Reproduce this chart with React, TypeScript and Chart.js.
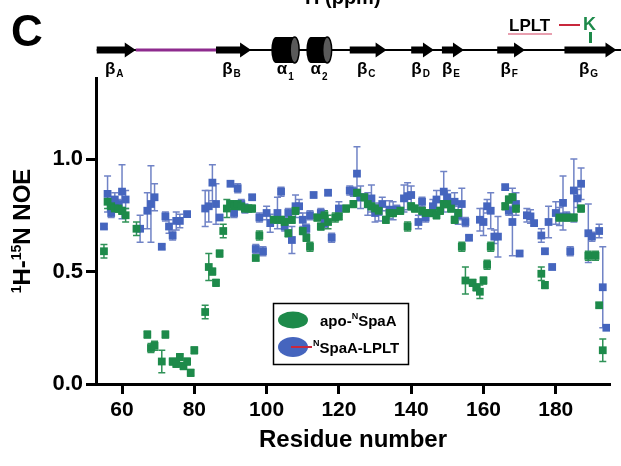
import React, { useEffect, useRef } from "react";
import { Chart, registerables } from "chart.js";

Chart.register(...registerables);

// ---------- data ----------
const apoResidues = [55,56,57,58,59,60,61,64,67,68,69,71,72,74,75,76,77,78,79,80,83,84,85,86,87,88,89,90,91,92,93,94,95,96,97,98,102,104,105,106,107,108,110,111,112,114,115,116,117,119,120,122,124,125,127,128,129,130,131,133,134,135,137,139,140,141,143,144,146,147,148,149,150,151,152,153,154,155,157,158,159,160,161,162,166,167,168,169,176,177,181,183,185,187,189,191,192,193];
const apoNoe = [0.59,0.81,0.79,0.78,0.78,0.77,0.75,0.69,0.22,0.16,0.17,0.10,0.22,0.10,0.09,0.12,0.08,0.10,0.05,0.15,0.32,0.52,0.50,0.45,0.58,0.68,0.78,0.80,0.79,0.80,0.79,0.78,0.78,0.78,0.56,0.66,0.73,0.73,0.72,0.67,0.73,0.77,0.68,0.65,0.61,0.74,0.70,0.75,0.72,0.74,0.745,0.78,0.80,0.85,0.83,0.80,0.79,0.78,0.77,0.73,0.76,0.76,0.77,0.70,0.79,0.78,0.77,0.76,0.76,0.75,0.77,0.80,0.80,0.78,0.73,0.76,0.61,0.46,0.45,0.43,0.41,0.46,0.53,0.61,0.79,0.82,0.83,0.78,0.49,0.44,0.74,0.74,0.74,0.78,0.57,0.57,0.35,0.15];
const apoErr = [0.03,0.03,0.015,0.015,0.015,0.015,0.03,0.03,0.015,0.02,0.02,0.05,0.015,0.015,0.015,0.015,0.015,0.015,0.015,0.015,0.03,0.06,0.015,0.015,0.015,0.03,0.04,0.015,0.015,0.015,0.015,0.015,0.015,0.015,0.01,0.02,0.015,0.015,0.015,0.015,0.015,0.015,0.015,0.015,0.02,0.015,0.015,0.02,0.03,0.02,0.015,0.015,0.015,0.015,0.015,0.015,0.015,0.015,0.015,0.015,0.015,0.015,0.015,0.02,0.015,0.015,0.015,0.015,0.015,0.015,0.015,0.015,0.015,0.015,0.015,0.015,0.02,0.06,0.015,0.015,0.03,0.015,0.02,0.02,0.015,0.015,0.015,0.015,0.03,0.015,0.015,0.015,0.015,0.015,0.02,0.02,0.01,0.05];

const lpltResidues = [55,56,57,58,59,60,61,65,67,68,69,71,72,73,74,75,76,78,83,84,85,86,87,90,91,92,93,94,96,97,98,99,100,101,103,104,105,106,107,108,109,110,111,112,113,115,116,117,118,120,123,124,125,126,128,129,130,131,132,134,135,136,138,139,140,142,143,144,146,147,149,150,152,153,154,155,156,159,160,161,162,163,164,166,167,168,169,170,172,173,174,176,177,178,179,180,181,182,183,184,185,186,187,189,190,192,193,194];
const lpltNoe = [0.70,0.845,0.76,0.82,0.80,0.855,0.82,0.69,0.77,0.80,0.83,0.61,0.745,0.70,0.66,0.725,0.725,0.755,0.78,0.79,0.895,0.80,0.74,0.89,0.76,0.87,0.80,0.78,0.83,0.60,0.74,0.59,0.76,0.715,0.76,0.855,0.70,0.76,0.64,0.79,0.79,0.73,0.69,0.75,0.84,0.76,0.715,0.85,0.65,0.78,0.86,0.855,0.935,0.83,0.80,0.825,0.76,0.765,0.80,0.775,0.77,0.775,0.825,0.835,0.84,0.72,0.81,0.74,0.79,0.82,0.855,0.83,0.81,0.75,0.80,0.72,0.65,0.73,0.72,0.79,0.77,0.655,0.655,0.875,0.77,0.72,0.80,0.58,0.75,0.745,0.715,0.66,0.59,0.72,0.52,0.76,0.745,0.805,0.745,0.59,0.86,0.825,0.89,0.67,0.655,0.68,0.43,0.25];
const lpltErr = [0.01,0.08,0.02,0.03,0.02,0.12,0.04,0.06,0.08,0.17,0.06,0.01,0.02,0.03,0.02,0.04,0.03,0.01,0.08,0.07,0.08,0.09,0.01,0.01,0.02,0.02,0.02,0.02,0.01,0.02,0.02,0.02,0.03,0.04,0.07,0.02,0.02,0.02,0.06,0.05,0.03,0.03,0.02,0.02,0.01,0.02,0.02,0.01,0.02,0.03,0.02,0.02,0.12,0.05,0.05,0.06,0.04,0.04,0.03,0.04,0.04,0.02,0.06,0.06,0.04,0.03,0.02,0.02,0.03,0.04,0.09,0.03,0.04,0.04,0.07,0.02,0.01,0.05,0.06,0.03,0.08,0.03,0.09,0.01,0.02,0.15,0.05,0.01,0.03,0.03,0.01,0.03,0.01,0.07,0.01,0.05,0.04,0.12,0.02,0.02,0.14,0.04,0.07,0.13,0.02,0.03,0.18,0.01];

const xTicks = [60, 80, 100, 120, 140, 160, 180];
const yTicks = [0, 0.5, 1.0];

// secondary structure (residue ranges)
const strandNames = ["A", "B", "C", "D", "E", "F", "G"];
const strandStarts = [53, 86, 123, 140, 148.5, 163.8, 182.4];
const strandEnds = [63.8, 95.7, 133.2, 146.3, 154.6, 171.5, 196.8];
const helixNames = ["1", "2"];
const helixStarts = [101.3, 111];
const helixEnds = [109, 118];
const disorderedRange = [63.8, 86];

const FONT = "Arial, 'Liberation Sans', Helvetica, sans-serif";
const BLUE = "#4565be";
const BLUE_ERR = "#7083c6";
const GREEN = "#1d8a4a";
const GREEN_ERR = "#2f9257";

const errorBarPlugin = {
  id: "errorBars",
  beforeDatasetsDraw(chart: any) {
    const ctx = chart.ctx;
    const xS = chart.scales.x;
    const yS = chart.scales.y;
    const order = [1, 0];
    ctx.save();
    for (const i of order) {
      const ds = chart.data.datasets[i];
      const errs: number[] = ds.errors;
      ctx.strokeStyle = ds.errColor;
      ctx.lineWidth = 1.5;
      ds.data.forEach((p: any, k: number) => {
        const e = errs[k];
        const x = xS.getPixelForValue(p.x);
        const yt = yS.getPixelForValue(p.y + e);
        const yb = yS.getPixelForValue(p.y - e);
        ctx.beginPath();
        ctx.moveTo(x, yt);
        ctx.lineTo(x, yb);
        ctx.moveTo(x - 3.5, yt);
        ctx.lineTo(x + 3.5, yt);
        ctx.moveTo(x - 3.5, yb);
        ctx.lineTo(x + 3.5, yb);
        ctx.stroke();
      });
    }
    ctx.restore();
  },
};

function drawSubLabel(ctx: any, main: string, sub: string, cx: number, base: number, subDrop: number) {
  ctx.font = `bold 17px ${FONT}`;
  const w1 = ctx.measureText(main).width;
  ctx.font = `bold 10px ${FONT}`;
  const w2 = ctx.measureText(sub).width;
  const x0 = cx - (w1 + w2 + 1) / 2;
  ctx.font = `bold 17px ${FONT}`;
  ctx.fillText(main, x0, base);
  ctx.font = `bold 10px ${FONT}`;
  ctx.fillText(sub, x0 + w1 + 1, base + subDrop);
}

const decorPlugin = {
  id: "decor",
  afterDraw(chart: any) {
    const ctx = chart.ctx;
    const xS = chart.scales.x;
    const y0 = 50;
    ctx.save();
    ctx.fillStyle = "#000";
    ctx.textAlign = "left";
    ctx.textBaseline = "alphabetic";

    // panel letter
    ctx.font = `bold 44px ${FONT}`;
    ctx.fillText("C", 11, 46);

    // cut-off header
    ctx.font = `bold 13px ${FONT}`;
    ctx.fillText("1", 297, -3);
    ctx.font = `bold 20px ${FONT}`;
    ctx.fillText("H (ppm)", 305, 4);

    // baseline
    const xs0 = xS.getPixelForValue(strandStarts[0]);
    ctx.strokeStyle = "#000";
    ctx.lineWidth = 2;
    ctx.beginPath();
    ctx.moveTo(xs0, y0);
    ctx.lineTo(chart.width, y0);
    ctx.stroke();

    // disordered segment
    ctx.strokeStyle = "#8e2b8e";
    ctx.lineWidth = 3;
    ctx.beginPath();
    ctx.moveTo(xS.getPixelForValue(disorderedRange[0]), y0);
    ctx.lineTo(xS.getPixelForValue(disorderedRange[1]), y0);
    ctx.stroke();

    // strands
    strandStarts.forEach((s, i) => {
      const x1 = xS.getPixelForValue(s);
      const x2 = xS.getPixelForValue(strandEnds[i]);
      const hl = 11;
      ctx.fillStyle = "#000";
      ctx.beginPath();
      ctx.moveTo(x1, y0 - 3.5);
      ctx.lineTo(x2 - hl, y0 - 3.5);
      ctx.lineTo(x2 - hl, y0 - 7.5);
      ctx.lineTo(x2, y0);
      ctx.lineTo(x2 - hl, y0 + 7.5);
      ctx.lineTo(x2 - hl, y0 + 3.5);
      ctx.lineTo(x1, y0 + 3.5);
      ctx.closePath();
      ctx.fill();
      drawSubLabel(ctx, "β", strandNames[i], (x1 + x2) / 2 - 2, 74, 3);
    });

    // helices
    helixStarts.forEach((s, i) => {
      const x1 = xS.getPixelForValue(s);
      const x2 = xS.getPixelForValue(helixEnds[i]);
      const rx = 4.5, ry = 13;
      ctx.fillStyle = "#000";
      ctx.beginPath();
      ctx.ellipse(x1 + rx, y0, rx, ry, 0, 0, Math.PI * 2);
      ctx.fill();
      ctx.fillRect(x1 + rx, y0 - ry, x2 - x1 - 2 * rx, 2 * ry);
      ctx.beginPath();
      ctx.ellipse(x2 - rx, y0, rx, ry, 0, 0, Math.PI * 2);
      ctx.fillStyle = "#5a5a5a";
      ctx.fill();
      ctx.strokeStyle = "#000";
      ctx.lineWidth = 1.5;
      ctx.stroke();
      ctx.fillStyle = "#000";
      drawSubLabel(ctx, "α", helixNames[i], (x1 + x2) / 2, 74, 6);
    });

    // LPLT / K annotation
    ctx.fillStyle = "#000";
    ctx.font = `bold 17px ${FONT}`;
    ctx.fillText("LPLT", 509, 31);
    ctx.strokeStyle = "#e07f95";
    ctx.lineWidth = 1.5;
    ctx.beginPath();
    ctx.moveTo(508, 34);
    ctx.lineTo(552, 34);
    ctx.stroke();
    ctx.strokeStyle = "#c8283c";
    ctx.lineWidth = 2;
    ctx.beginPath();
    ctx.moveTo(559, 25);
    ctx.lineTo(580, 25);
    ctx.stroke();
    ctx.fillStyle = "#1d8a4a";
    ctx.font = `bold 18px ${FONT}`;
    ctx.fillText("K", 583, 30);
    ctx.fillRect(589, 32, 3, 11);

    // y axis title with superscripts (rotated)
    ctx.save();
    ctx.translate(30, 231);
    ctx.rotate(-Math.PI / 2);
    ctx.fillStyle = "#000";
    const parts: [string, boolean][] = [["1", true], ["H-", false], ["15", true], ["N NOE", false]];
    let total = 0;
    for (const [t, sup] of parts) {
      ctx.font = `bold ${sup ? 14 : 24}px ${FONT}`;
      total += ctx.measureText(t).width;
    }
    let x = -total / 2;
    for (const [t, sup] of parts) {
      ctx.font = `bold ${sup ? 14 : 24}px ${FONT}`;
      ctx.fillText(t, x, sup ? -9 : 0);
      x += ctx.measureText(t).width;
    }
    ctx.restore();

    // legend
    ctx.strokeStyle = "#000";
    ctx.lineWidth = 1.5;
    ctx.strokeRect(273.5, 303.5, 135, 61);
    ctx.fillStyle = GREEN;
    ctx.beginPath();
    ctx.ellipse(293, 320, 15, 8.5, 0, 0, Math.PI * 2);
    ctx.fill();
    ctx.fillStyle = BLUE;
    ctx.beginPath();
    ctx.ellipse(293, 347, 15, 10, 0, 0, Math.PI * 2);
    ctx.fill();
    ctx.strokeStyle = "#c8283c";
    ctx.lineWidth = 2;
    ctx.beginPath();
    ctx.moveTo(291, 347);
    ctx.lineTo(312, 347);
    ctx.stroke();

    ctx.fillStyle = "#000";
    const legendLine = (xStart: number, base: number, pre: string, post: string) => {
      let xx = xStart;
      ctx.font = `bold 15px ${FONT}`;
      if (pre) {
        ctx.fillText(pre, xx, base);
        xx += ctx.measureText(pre).width;
      }
      ctx.font = `bold 9px ${FONT}`;
      ctx.fillText("N", xx, base - 7);
      xx += ctx.measureText("N").width;
      ctx.font = `bold 15px ${FONT}`;
      ctx.fillText(post, xx, base);
    };
    legendLine(320, 326, "apo-", "SpaA");
    legendLine(313, 353, "", "SpaA-LPLT");

    ctx.restore();
  },
};

export default function App() {
  const ref = useRef<HTMLCanvasElement | null>(null);

  useEffect(() => {
    if (!ref.current) return;
    const green = apoResidues.map((r, i) => ({ x: r, y: apoNoe[i] }));
    const blue = lpltResidues.map((r, i) => ({ x: r, y: lpltNoe[i] }));
    const chart = new Chart(ref.current, {
      type: "scatter",
      data: {
        datasets: [
          {
            label: "apo-NSpaA",
            data: green,
            pointStyle: "rect",
            pointRadius: 5.5,
            backgroundColor: GREEN,
            borderWidth: 0,
            errors: apoErr,
            errColor: GREEN_ERR,
          } as any,
          {
            label: "NSpaA-LPLT",
            data: blue,
            pointStyle: "rect",
            pointRadius: 5.5,
            backgroundColor: BLUE,
            borderWidth: 0,
            errors: lpltErr,
            errColor: BLUE_ERR,
          } as any,
        ],
      },
      options: {
        animation: false,
        responsive: false,
        devicePixelRatio: 1,
        layout: { padding: { left: 0, right: 11, top: 78, bottom: 0 } },
        plugins: { legend: { display: false }, tooltip: { enabled: false } },
        scales: {
          x: {
            type: "linear",
            min: 52.8,
            max: 195,
            afterBuildTicks: (s: any) => {
              s.ticks = xTicks.map((v) => ({ value: v }));
            },
            afterFit: (s: any) => {
              s.height = 466 - 384;
            },
            grid: { drawOnChartArea: false, drawTicks: true, tickLength: 10, tickWidth: 3, color: "#000" },
            border: { display: true, width: 3, color: "#000" },
            ticks: { color: "#000", padding: 4, font: { family: FONT, size: 21, weight: "bold" } },
            title: {
              display: true,
              text: "Residue number",
              color: "#000",
              font: { family: FONT, size: 24, weight: "bold" },
              padding: { top: 0, bottom: 11 },
            },
          },
          y: {
            type: "linear",
            min: 0,
            max: 1.36,
            afterBuildTicks: (s: any) => {
              s.ticks = yTicks.map((v) => ({ value: v }));
            },
            afterFit: (s: any) => {
              s.width = 96;
            },
            grid: { drawOnChartArea: false, drawTicks: true, tickLength: 10, tickWidth: 3, color: "#000" },
            border: { display: true, width: 3, color: "#000" },
            ticks: {
              color: "#000",
              padding: 3,
              font: { family: FONT, size: 22, weight: "bold" },
              callback: (v: any) => Number(v).toFixed(1),
            },
          },
        },
      },
      plugins: [errorBarPlugin, decorPlugin],
    });
    return () => chart.destroy();
  }, []);

  return (
    <div style={{ position: "fixed", left: 0, top: 0, width: 621, height: 466, background: "#fff" }}>
      <canvas ref={ref} width={621} height={466} style={{ display: "block" }} />
    </div>
  );
}
